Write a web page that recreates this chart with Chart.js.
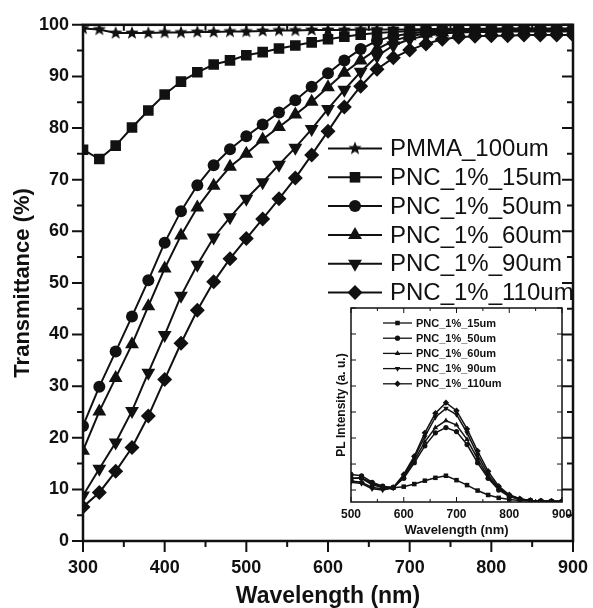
<!DOCTYPE html>
<html lang="en">
<head>
  <meta charset="UTF-8">
  <title>Transmittance and PL spectra</title>
  <style>
    html, body { margin: 0; padding: 0; background: #ffffff; }
    #wrap { position: relative; width: 593px; height: 608px; }
    #mainChart { position: absolute; left: 0; top: 0; }
    #insetChart { position: absolute; left: 300px; top: 290px; }
  </style>
</head>
<body>
  <div id="wrap">
    <canvas id="mainChart" width="593" height="608"></canvas>
    <canvas id="insetChart" width="290" height="252"></canvas>
  </div>

  <script src="https://cdn.jsdelivr.net/npm/chart.js@4"></script>
  <script>
    // ---- main plot: transmittance ----
    const wavelengths = [300, 320, 340, 360, 380, 400, 420, 440, 460, 480, 500, 520, 540, 560, 580,
                         600, 620, 640, 660, 680, 700, 720, 740, 760, 780, 800, 820, 840, 860, 880, 900];
    const pmma100 = [99.3, 99.1, 98.4, 98.4, 98.4, 98.5, 98.5, 98.6, 98.6, 98.7, 98.7, 98.8, 98.9, 98.9, 99.0,
                     99.0, 99.0, 99.1, 99.1, 99.1, 99.1, 99.2, 99.2, 99.2, 99.2, 99.3, 99.3, 99.3, 99.3, 99.3, 99.3];
    const pnc15 = [75.8, 74.0, 76.6, 80.1, 83.4, 86.5, 89.0, 90.8, 92.3, 93.1, 94.1, 94.7, 95.4, 96.0, 96.6,
                   97.2, 97.7, 98.1, 98.4, 98.6, 98.8, 98.9, 99.0, 99.0, 99.1, 99.1, 99.1, 99.2, 99.2, 99.2, 99.2];
    const pnc50 = [22.3, 29.9, 36.7, 43.5, 50.5, 57.8, 63.9, 68.9, 72.8, 75.9, 78.4, 80.7, 83.0, 85.4, 88.0,
                   90.6, 93.1, 95.3, 96.9, 97.8, 98.3, 98.6, 98.8, 98.9, 98.9, 99.0, 99.0, 99.0, 99.1, 99.1, 99.1];
    const pnc60 = [17.5, 25.1, 31.6, 38.1, 45.5, 52.8, 59.2, 64.6, 68.8, 72.5, 75.0, 77.8, 80.2, 82.6, 85.1,
                   87.9, 90.7, 93.1, 95.3, 96.9, 97.8, 98.3, 98.5, 98.6, 98.7, 98.8, 98.8, 98.8, 98.9, 98.9, 98.9];
    const pnc90 = [8.8, 14.0, 19.1, 25.2, 32.6, 39.9, 47.5, 53.5, 58.8, 62.7, 66.3, 69.5, 72.9, 76.2, 79.8,
                   83.7, 87.4, 90.9, 93.9, 96.0, 97.2, 97.9, 98.3, 98.5, 98.6, 98.6, 98.7, 98.7, 98.7, 98.7, 98.7];
    const pnc110 = [6.6, 9.4, 13.5, 18.1, 24.2, 31.3, 38.3, 44.7, 50.2, 54.7, 58.6, 62.4, 66.3, 70.3, 74.8,
                    79.4, 84.1, 88.1, 91.4, 93.6, 95.1, 96.3, 97.2, 97.6, 97.8, 97.9, 97.9, 98.0, 98.0, 98.0, 98.0];
    const mainLabels = ['PMMA_100um', 'PNC_1%_15um', 'PNC_1%_50um', 'PNC_1%_60um', 'PNC_1%_90um', 'PNC_1%_110um'];

    // ---- inset: PL intensity ----
    const plWavelengths = [500, 520, 540, 560, 580, 600, 620, 640, 660, 680, 700,
                           720, 740, 760, 780, 800, 820, 840, 860, 880, 900];
    const pl15 = [0.45, 0.47, 0.26, 0.13, 0.09, 0.13, 0.23, 0.36, 0.47, 0.55, 0.38,
                  0.19, -0.02, -0.19, -0.30, -0.36, -0.40, -0.42, -0.43, -0.44, -0.44];
    const pl50 = [0.60, 0.55, 0.30, 0.15, 0.10, 0.45, 1.05, 1.70, 2.20, 2.40, 2.25,
                  1.75, 1.05, 0.45, 0.00, -0.25, -0.36, -0.40, -0.42, -0.43, -0.44];
    const pl60 = [0.45, 0.45, 0.20, 0.10, 0.08, 0.50, 1.15, 1.85, 2.40, 2.67, 2.50,
                  1.95, 1.20, 0.50, 0.05, -0.22, -0.35, -0.40, -0.42, -0.43, -0.44];
    const pl90 = [0.30, 0.25, 0.05, 0.00, 0.08, 0.55, 1.25, 2.05, 2.80, 3.14, 2.90,
                  2.20, 1.35, 0.60, 0.08, -0.20, -0.34, -0.40, -0.42, -0.43, -0.44];
    const pl110 = [0.35, 0.30, 0.10, 0.05, 0.10, 0.60, 1.30, 2.20, 2.95, 3.36, 3.05,
                   2.35, 1.50, 0.72, 0.15, -0.18, -0.33, -0.40, -0.42, -0.43, -0.44];
    const insetLabels = ['PNC_1%_15um', 'PNC_1%_50um', 'PNC_1%_60um', 'PNC_1%_90um', 'PNC_1%_110um'];

    const INK = '#111111';
    const FAMILY = "'Liberation Sans', Arial, Helvetica, sans-serif";

    function pairs(xs, ys) {
      return xs.map((x, i) => ({ x: x, y: ys[i] }));
    }

    // filled five point star used as point style
    function makeStar(r) {
      const c = document.createElement('canvas');
      c.width = c.height = 2 * r + 2;
      const g = c.getContext('2d');
      g.fillStyle = INK;
      g.beginPath();
      for (let i = 0; i < 10; i++) {
        const rr = i % 2 ? r * 0.42 : r;
        const a = -Math.PI / 2 + i * Math.PI / 5;
        g.lineTo(r + 1 + rr * Math.cos(a), r + 1 + rr * Math.sin(a));
      }
      g.closePath();
      g.fill();
      return c;
    }

    function series(label, xs, ys, style, radius, rotation, width) {
      return {
        label: label,
        data: pairs(xs, ys),
        borderColor: INK,
        borderWidth: width,
        backgroundColor: INK,
        pointBackgroundColor: INK,
        pointBorderWidth: 0,
        pointStyle: style,
        pointRadius: radius,
        pointRotation: rotation || 0,
        tension: 0,
        clip: 0
      };
    }

    // no extra room for the end tick labels, layout padding decides
    function noScalePadding(s) {
      s.paddingLeft = 0;
      s.paddingRight = 0;
    }

    // frame, tick marks and hand placed legend
    const framePlugin = {
      id: 'frame',
      afterDraw(chart, args, o) {
        const { ctx, chartArea: a, scales: { x, y } } = chart;
        ctx.save();
        ctx.strokeStyle = INK;
        ctx.lineWidth = o.tickWidth;
        ctx.beginPath();
        for (let v = o.xFrom; v <= o.xTo; v += o.xMinor) {
          const px = x.getPixelForValue(v);
          const len = v % o.xMajor === 0 ? o.majorLen : o.minorLen;
          ctx.moveTo(px, a.bottom);
          ctx.lineTo(px, a.bottom + (o.outward ? len : -len));
          ctx.moveTo(px, a.top);
          ctx.lineTo(px, a.top + len);
        }
        for (let v = o.yFrom; v <= o.yTo; v += o.yMinor) {
          const py = y.getPixelForValue(v);
          const len = v % o.yMajor === 0 ? o.majorLen : o.minorLen;
          ctx.moveTo(a.left, py);
          ctx.lineTo(a.left + (o.outward ? -len : len), py);
          ctx.moveTo(a.right, py);
          ctx.lineTo(a.right - len, py);
        }
        ctx.stroke();
        ctx.lineWidth = o.borderWidth;
        ctx.strokeRect(a.left, a.top, a.right - a.left, a.bottom - a.top);

        // legend
        const L = o.legend;
        ctx.font = L.font;
        ctx.textBaseline = 'middle';
        ctx.textAlign = 'left';
        chart.data.datasets.forEach((ds, i) => {
          const ly = L.y0 + i * L.dy;
          ctx.lineWidth = L.lineWidth;
          ctx.beginPath();
          ctx.moveTo(L.x0, ly);
          ctx.lineTo(L.x1, ly);
          ctx.stroke();
          ctx.fillStyle = INK;
          Chart.helpers.drawPoint(ctx, {
            pointStyle: ds.pointStyle,
            radius: ds.pointRadius * L.markerScale,
            rotation: ds.pointRotation,
            borderWidth: 0
          }, (L.x0 + L.x1) / 2, ly);
          ctx.fillStyle = INK;
          ctx.fillText(ds.label, L.tx, ly + L.textShift);
        });
        ctx.restore();
      }
    };

    const star = makeStar(7);

    new Chart(document.getElementById('mainChart'), {
      type: 'line',
      data: {
        datasets: [
          series(mainLabels[0], wavelengths, pmma100, star, 7, 0, 2),
          series(mainLabels[1], wavelengths, pnc15, 'rect', 7.5, 0, 2),
          series(mainLabels[2], wavelengths, pnc50, 'circle', 6, 0, 2),
          series(mainLabels[3], wavelengths, pnc60, 'triangle', 8, 0, 2),
          series(mainLabels[4], wavelengths, pnc90, 'triangle', 8, 180, 2),
          series(mainLabels[5], wavelengths, pnc110, 'rectRot', 7.5, 0, 2)
        ]
      },
      options: {
        responsive: false,
        animation: false,
        events: [],
        layout: { padding: { left: 0, top: 21, right: 20, bottom: 0 } },
        scales: {
          x: {
            type: 'linear',
            min: 300,
            max: 900,
            afterFit(s) { s.height = 67; noScalePadding(s); },
            grid: { display: false, drawTicks: false },
            border: { display: false },
            ticks: { stepSize: 100, maxRotation: 0, padding: 16, color: INK,
                     font: { family: FAMILY, size: 18, weight: 'bold' } },
            title: { display: true, text: 'Wavelength (nm)', color: INK,
                     padding: { top: 0, bottom: 0 },
                     font: { family: FAMILY, size: 23, weight: 'bold', lineHeight: 1 } }
          },
          y: {
            min: 0,
            max: 100,
            afterFit(s) { s.width = 83; },
            grid: { display: false, drawTicks: false },
            border: { display: false },
            ticks: { stepSize: 10, padding: 14, color: INK,
                     font: { family: FAMILY, size: 18, weight: 'bold' } },
            title: { display: true, text: 'Transmittance (%)', color: INK,
                     padding: { top: 12, bottom: 0 },
                     font: { family: FAMILY, size: 22, weight: 'bold', lineHeight: 1 } }
          }
        },
        plugins: {
          legend: { display: false },
          tooltip: { enabled: false },
          frame: {
            outward: true, tickWidth: 2, borderWidth: 2.5, majorLen: 11, minorLen: 6,
            xFrom: 300, xTo: 900, xMinor: 50, xMajor: 100,
            yFrom: 0, yTo: 100, yMinor: 5, yMajor: 10,
            legend: { x0: 328, x1: 382, tx: 390, y0: 148.5, dy: 28.8, textShift: 1,
                      lineWidth: 2, markerScale: 1, font: '24px ' + FAMILY }
          }
        }
      },
      plugins: [framePlugin]
    });

    new Chart(document.getElementById('insetChart'), {
      type: 'line',
      data: {
        datasets: [
          series(insetLabels[0], plWavelengths, pl15, 'rect', 3.2, 0, 1.5),
          series(insetLabels[1], plWavelengths, pl50, 'circle', 2.6, 0, 1.5),
          series(insetLabels[2], plWavelengths, pl60, 'triangle', 3.2, 0, 1.5),
          series(insetLabels[3], plWavelengths, pl90, 'triangle', 3.2, 180, 1.5),
          series(insetLabels[4], plWavelengths, pl110, 'rectRot', 3.2, 0, 1.5)
        ]
      },
      options: {
        responsive: false,
        animation: false,
        events: [],
        layout: { padding: { left: 0, top: 18, right: 28, bottom: 0 } },
        scales: {
          x: {
            type: 'linear',
            min: 500,
            max: 900,
            afterFit(s) { s.height = 40; noScalePadding(s); },
            grid: { display: false, drawTicks: false },
            border: { display: false },
            ticks: { stepSize: 100, maxRotation: 0, padding: 5, color: INK,
                     font: { family: FAMILY, size: 12, weight: 'bold' } },
            title: { display: true, text: 'Wavelength (nm)', color: INK,
                     padding: { top: 0, bottom: 5 },
                     font: { family: FAMILY, size: 13, weight: 'bold', lineHeight: 1 } }
          },
          y: {
            min: -0.46,
            max: 7,
            afterFit(s) { s.width = 51; },
            grid: { display: false, drawTicks: false },
            border: { display: false },
            ticks: { display: false },
            title: { display: true, text: 'PL Intensity (a. u.)', color: INK,
                     padding: { top: 36, bottom: 0 },
                     font: { family: FAMILY, size: 12, weight: 'bold', lineHeight: 1 } }
          }
        },
        plugins: {
          legend: { display: false },
          tooltip: { enabled: false },
          frame: {
            outward: false, tickWidth: 1, borderWidth: 1.5, majorLen: 5, minorLen: 3,
            xFrom: 500, xTo: 900, xMinor: 50, xMajor: 100,
            yFrom: 0, yTo: 7, yMinor: 1, yMajor: 1,
            legend: { x0: 83, x1: 112, tx: 116, y0: 33, dy: 15.2, textShift: 0.5,
                      lineWidth: 1.3, markerScale: 1, font: 'bold 11px ' + FAMILY }
          }
        }
      },
      plugins: [framePlugin]
    });
  </script>
</body>
</html>
